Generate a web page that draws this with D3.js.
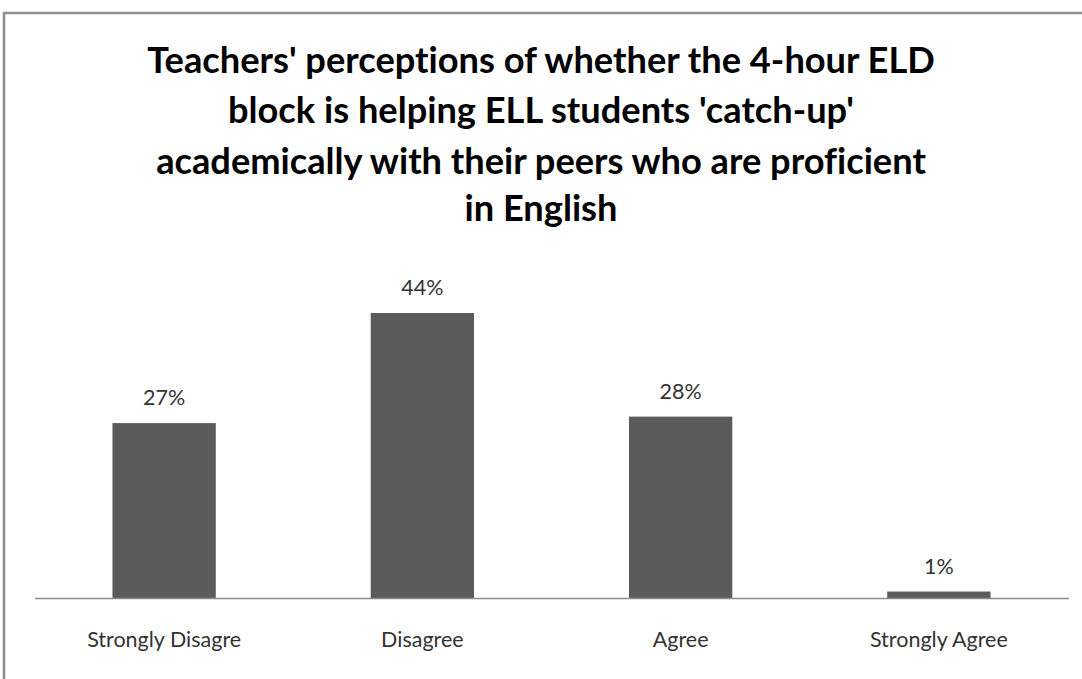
<!DOCTYPE html>
<html><head><meta charset="utf-8">
<script src="https://cdn.jsdelivr.net/npm/d3@7"></script>
<style>html,body{margin:0;padding:0;background:#fff;}svg{display:block;}text{font-variant-ligatures:none;}</style>
</head><body>
<svg id="c" width="1082" height="679"></svg>
<script>
const categories = ["Strongly Disagre", "Disagree", "Agree", "Strongly Agree"];
const values = [27, 44, 28, 1];
const valueLabels = ["27%", "44%", "28%", "1%"];
const titleLines = [
  "Teachers' perceptions of whether the 4-hour ELD",
  "block is helping ELL students 'catch-up'",
  "academically with their peers who are proficient",
  "in English"
];

const svg = d3.select("#c");
const font = "Lato, 'Open Sans', sans-serif";

// frame
svg.append("rect").attr("x", 4).attr("y", 13).attr("width", 1090).attr("height", 680)
  .attr("fill", "none").attr("stroke", "#8c8c8c").attr("stroke-width", 2.5);

// title
const title = svg.append("g");
const baselines = [73, 123, 174, 221];
titleLines.forEach((t, i) => {
  title.append("text").attr("x", 541).attr("y", baselines[i])
    .attr("text-anchor", "middle").attr("font-family", font).attr("font-weight", "bold")
    .attr("font-size", 33).attr("fill", "#000").text(t);
});
// fit first line width to ~788px
const first = title.select("text").node();
const w = first.getComputedTextLength();
const fs = 33 * 788 / w;
title.selectAll("text").attr("font-size", fs);

const x = d3.scaleBand().domain(categories).range([35, 1068]).paddingInner(0.6).paddingOuter(0.3);
const y = d3.scaleLinear().domain([0, 44]).range([598, 313]);

svg.selectAll("rect.bar").data(values).join("rect").attr("class", "bar")
  .attr("x", (d, i) => x(categories[i])).attr("width", x.bandwidth())
  .attr("y", d => y(d)).attr("height", d => y(0) - y(d)).attr("fill", "#5b5b5b");

svg.selectAll("text.vl").data(values).join("text").attr("class", "vl")
  .attr("x", (d, i) => x(categories[i]) + x.bandwidth() / 2).attr("y", d => y(d) - 18)
  .attr("text-anchor", "middle").attr("font-family", font).attr("font-size", 21.5).attr("fill", "#333")
  .text((d, i) => valueLabels[i]);

const axis = d3.axisBottom(x).tickSize(0).tickPadding(0);
const ag = svg.append("g").attr("transform", "translate(0,598)").call(axis);
ag.select(".domain").attr("d", "M35,0.5H1069").attr("stroke", "#8c8c8c").attr("stroke-width", 1.3);
ag.selectAll(".tick text").attr("y", 49).attr("dy", null).attr("font-family", font)
  .attr("font-size", 21.5).attr("fill", "#333");
</script>
</body></html>
